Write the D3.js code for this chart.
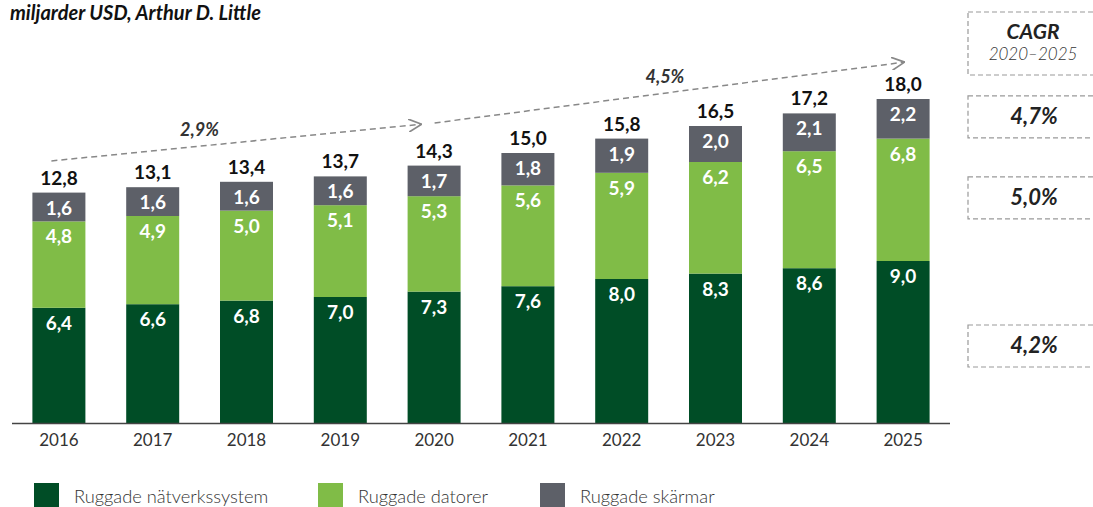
<!DOCTYPE html>
<html>
<head>
<meta charset="utf-8">
<script src="https://cdn.jsdelivr.net/npm/d3@7"></script>
<style>
  body { margin: 0; background: #fff; }
  svg { display: block; font-family: Lato, "Open Sans", sans-serif; }
</style>
</head>
<body>
<svg id="chart" width="1093" height="507"></svg>
<script>
const years = ["2016", "2017", "2018", "2019", "2020", "2021", "2022", "2023", "2024", "2025"];
const natverk = [6.4, 6.6, 6.8, 7.0, 7.3, 7.6, 8.0, 8.3, 8.6, 9.0];
const datorer = [4.8, 4.9, 5.0, 5.1, 5.3, 5.6, 5.9, 6.2, 6.5, 6.8];
const skarmar = [1.6, 1.6, 1.6, 1.6, 1.7, 1.8, 1.9, 2.0, 2.1, 2.2];
const totals = [12.8, 13.1, 13.4, 13.7, 14.3, 15.0, 15.8, 16.5, 17.2, 18.0];
const seriesNames = ["Ruggade nätverkssystem", "Ruggade datorer", "Ruggade skärmar"];
const colors = ["#004d26", "#80bc47", "#5d6068"];
// CAGR 2020–2025 per series
const cagr = { skarmar: "4,7%", datorer: "5,0%", natverk: "4,2%" };
// trend arrows: from/to as [year, value, offset inside the band]
const trends = [
  { from: ["2016", 14.56, 19], to: ["2020", 16.6, 14], label: "2,9%", at: 0.4 },
  { from: ["2020", 16.67, 27], to: ["2025", 20.05, 28], label: "4,5%", at: 0.49 }
];

const fmt = v => v.toFixed(1).replace(".", ",");
const svg = d3.select("#chart");

const x = d3.scaleBand().domain(years).range([12, 950]).paddingInner(0.435).paddingOuter(0.2175);
const y = d3.scaleLinear().domain([0, 18]).range([423, 99]);

const rows = years.map((yr, i) => ({ year: yr, natverk: natverk[i], datorer: datorer[i], skarmar: skarmar[i] }));
const keys = ["natverk", "datorer", "skarmar"];
const stacked = d3.stack().keys(keys)(rows);

// title
svg.append("text")
  .attr("x", 10).attr("y", 20)
  .style("font-size", "20px").style("font-weight", "bold").style("font-style", "italic")
  .attr("fill", "#111")
  .text("miljarder USD, Arthur D. Little");

// bars
const layer = svg.selectAll("g.layer")
  .data(stacked)
  .enter().append("g")
  .attr("class", "layer")
  .attr("fill", (d, i) => colors[i]);

layer.selectAll("rect")
  .data(d => d)
  .enter().append("rect")
  .attr("x", d => x(d.data.year))
  .attr("width", x.bandwidth())
  .attr("y", d => y(d[1]))
  .attr("height", d => y(d[0]) - y(d[1]));

layer.selectAll("text")
  .data(d => d.map(s => ({ s, v: s[1] - s[0] })))
  .enter().append("text")
  .attr("x", d => x(d.s.data.year) + x.bandwidth() / 2)
  .attr("y", d => y(d.s[1]) + 22)
  .attr("text-anchor", "middle")
  .attr("fill", "#fff")
  .style("font-size", "19px").style("font-weight", "bold")
  .text(d => fmt(d.v));

// totals
svg.selectAll("text.total")
  .data(years)
  .enter().append("text")
  .attr("class", "total")
  .attr("x", d => x(d) + x.bandwidth() / 2)
  .attr("y", (d, i) => y(totals[i]) - 8)
  .attr("text-anchor", "middle")
  .attr("fill", "#111")
  .style("font-size", "19px").style("font-weight", "bold")
  .text((d, i) => fmt(totals[i]));

// x axis
const xAxis = svg.append("g")
  .attr("transform", "translate(0,423)")
  .call(d3.axisBottom(x).tickSize(0).tickPadding(11));
xAxis.select(".domain").attr("stroke", "#444").attr("stroke-width", 1.5).attr("d", "M12,0.5H950");
xAxis.selectAll("text").style("font-size", "17px").style("font-family", "Lato, sans-serif").attr("fill", "#333");

// trend arrows
svg.append("defs").append("marker")
  .attr("id", "head").attr("viewBox", "0 0 10 10")
  .attr("refX", 10).attr("refY", 5)
  .attr("markerWidth", 13).attr("markerHeight", 13)
  .attr("markerUnits", "userSpaceOnUse")
  .attr("orient", "auto")
  .append("path").attr("d", "M0,0L10,5L0,10")
  .attr("fill", "none").attr("stroke", "#888").attr("stroke-width", 1.3);

trends.forEach(t => {
  const x1 = x(t.from[0]) + t.from[2], x2 = x(t.to[0]) + t.to[2];
  const y1 = y(t.from[1]), y2 = y(t.to[1]);
  svg.append("line")
    .attr("x1", x1).attr("y1", y1).attr("x2", x2).attr("y2", y2)
    .attr("stroke", "#888").attr("stroke-width", 1.5)
    .attr("stroke-dasharray", "6,4")
    .attr("marker-end", "url(#head)");
  svg.append("text")
    .attr("x", x1 + (x2 - x1) * t.at).attr("y", y1 + (y2 - y1) * t.at - 10)
    .attr("text-anchor", "middle")
    .attr("fill", "#333")
    .style("font-size", "18px").style("font-weight", "bold").style("font-style", "italic")
    .text(t.label);
});

// CAGR boxes
const boxX = 968, boxW = 140;
const box = (y0, h) => svg.append("rect")
  .attr("x", boxX).attr("y", y0).attr("width", boxW).attr("height", h)
  .attr("fill", "none").attr("stroke", "#999").attr("stroke-width", 1.2)
  .attr("stroke-dasharray", "5,3");

box(12, 63);
svg.append("text").attr("x", 1033).attr("y", 39).attr("text-anchor", "middle")
  .attr("fill", "#222").style("font-size", "21px").style("font-weight", "bold").style("font-style", "italic")
  .text("CAGR");
svg.append("text").attr("x", 1033).attr("y", 60).attr("text-anchor", "middle")
  .attr("fill", "#333").style("font-size", "17px").style("font-style", "italic").style("font-weight", "300")
  .text("2020–2025");

const last = stacked.map(s => s[s.length - 1]);
keys.forEach((k, i) => {
  const cy = (y(last[i][0]) + y(last[i][1])) / 2 + (i === 0 ? 4 : -2);
  box(cy - 21, 42);
  svg.append("text").attr("x", 1034).attr("y", cy + 7).attr("text-anchor", "middle")
    .attr("fill", "#222").style("font-size", "22px").style("font-weight", "bold").style("font-style", "italic")
    .text(cagr[k]);
});

// legend
const legX = [34, 318, 540];
seriesNames.forEach((n, i) => {
  svg.append("rect").attr("x", legX[i]).attr("y", 483).attr("width", 25).attr("height", 30).attr("fill", colors[i]);
  svg.append("text").attr("x", legX[i] + 40).attr("y", 503)
    .attr("fill", "#333").style("font-size", "18.3px").style("font-weight", "300")
    .text(n);
});
</script>
</body>
</html>
